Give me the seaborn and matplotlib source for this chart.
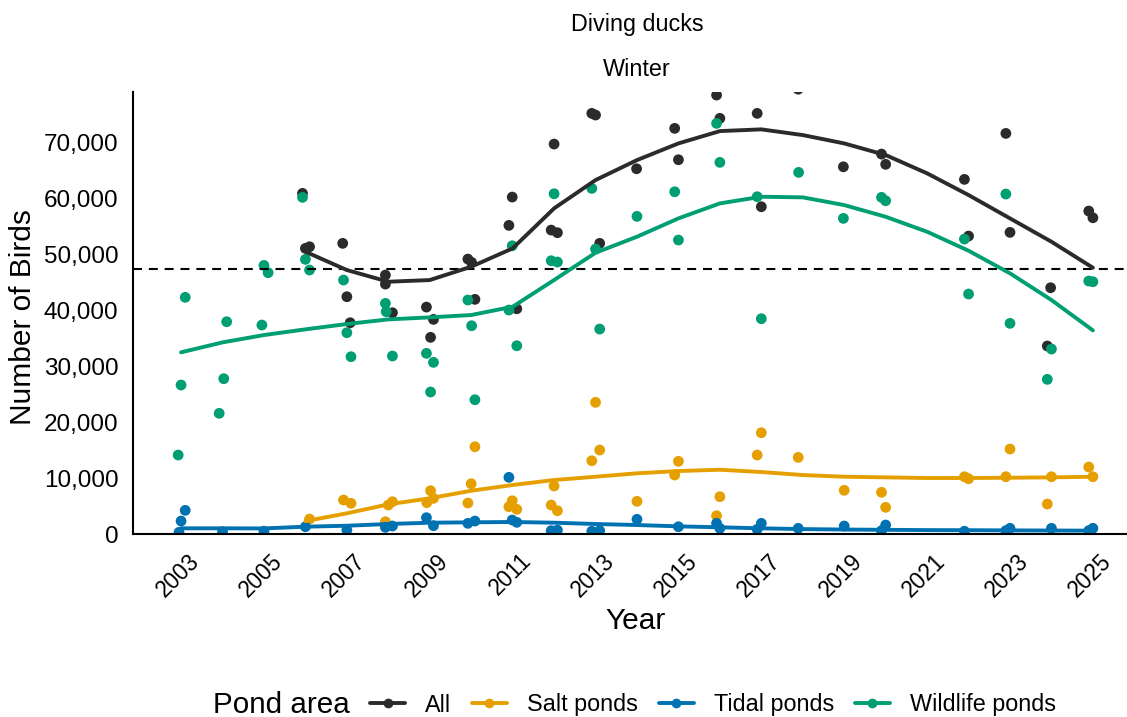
import matplotlib
matplotlib.use("Agg")
import matplotlib.pyplot as plt
import pandas as pd
import seaborn as sns
from matplotlib.lines import Line2D
from matplotlib.ticker import FuncFormatter
from matplotlib.transforms import ScaledTranslation

# Pond areas and their colours
areas = ["All", "Salt ponds", "Tidal ponds", "Wildlife ponds"]
colors = ["#2b2b2b", "#E69F00", "#0072B2", "#009E73"]

# Winter survey counts: decimal survey year and number of diving ducks
all_year = [2005.93, 2006.0, 2006.1, 2006.9, 2007.0, 2007.08, 2007.93, 2007.93, 2008.1,
            2008.92, 2009.02, 2009.09, 2009.92, 2010.01, 2010.09, 2010.91, 2010.99, 2011.1,
            2011.93, 2012.0, 2012.08, 2012.91, 2013.0, 2013.1, 2013.99, 2014.91, 2015.0,
            2015.92, 2016.0, 2016.9, 2017.0, 2017.89, 2018.98, 2019.9, 2020.0, 2021.9,
            2022.0, 2022.9, 2023.0, 2023.9, 2023.98, 2024.9, 2025.0]
all_count = [60880, 51050, 51340, 51950, 42410, 37760, 46280, 44670, 39550,
             40560, 35150, 38360, 49140, 48550, 41940, 55160, 60220, 40260,
             54320, 69690, 53850, 75180, 74880, 51950, 65280, 72500, 66890,
             78450, 74290, 75180, 58490, 79500, 65630, 67900, 66070, 63380,
             53250, 71600, 53910, 33600, 44020, 57720, 56520]

salt_year = [2006.1, 2006.92, 2007.1, 2007.93, 2008.0, 2008.1, 2008.93, 2009.02, 2009.09,
             2009.92, 2010.0, 2010.09, 2010.91, 2010.99, 2011.1, 2011.93, 2012.0, 2012.08,
             2012.91, 2013.0, 2013.1, 2014.0, 2014.91, 2015.0, 2015.92, 2016.0, 2016.9,
             2017.0, 2017.89, 2019.0, 2019.9, 2020.0, 2021.9, 2022.0, 2022.9, 2023.0,
             2023.9, 2024.0, 2024.9, 2025.0]
salt_count = [2680, 6080, 5490, 2200, 5180, 5770, 5600, 7740, 6380,
              5540, 8990, 15600, 4880, 5950, 4410, 5180, 8580, 4160,
              13100, 23530, 15010, 5840, 10540, 12990, 3270, 6670, 14120,
              18100, 13700, 7810, 7450, 4770, 10240, 9880, 10240, 15190,
              5360, 10240, 11970, 10240]

tidal_year = [2002.95, 2003.0, 2003.1, 2004.0, 2005.0, 2006.0, 2007.0, 2007.93, 2008.1,
              2008.92, 2009.09, 2009.92, 2010.09, 2010.91, 2010.99, 2011.1, 2011.93, 2012.08,
              2012.91, 2013.1, 2014.0, 2015.0, 2015.92, 2016.0, 2016.9, 2017.0, 2017.89,
              2019.0, 2019.9, 2020.0, 2021.9, 2022.9, 2023.0, 2024.0, 2024.9, 2025.0]
tidal_count = [300, 2320, 4230, 400, 500, 1300, 700, 1200, 1430,
               2920, 1490, 1910, 2320, 10130, 2500, 2090, 600, 700,
               500, 600, 2630, 1300, 1910, 1020, 840, 1910, 1020,
               1430, 600, 1610, 500, 600, 1020, 1020, 600, 1020]

wild_year = [2002.93, 2003.0, 2003.1, 2003.92, 2004.03, 2004.1, 2004.95, 2005.0, 2005.1,
             2005.93, 2006.0, 2006.1, 2006.92, 2007.0, 2007.1, 2007.93, 2007.95, 2008.1,
             2008.92, 2009.02, 2009.09, 2009.92, 2010.01, 2010.09, 2010.91, 2010.99, 2011.1,
             2011.93, 2012.0, 2012.08, 2012.91, 2013.0, 2013.1, 2014.0, 2014.91, 2015.0,
             2015.92, 2016.0, 2016.9, 2017.0, 2017.9, 2018.98, 2019.9, 2020.0, 2021.9,
             2022.0, 2022.9, 2023.0, 2023.9, 2024.0, 2024.9, 2025.0]
wild_count = [14120, 26630, 42300, 21570, 27760, 37940, 37350, 48000, 46700,
              60170, 49090, 47180, 45390, 35980, 31690, 41220, 39730, 31810,
              32290, 25380, 30680, 41820, 37220, 24000, 40030, 51520, 33650,
              48840, 60810, 48610, 61770, 50930, 36630, 56770, 61170, 52540,
              73390, 66420, 60280, 38480, 64630, 56410, 60170, 59560, 52720,
              42890, 60760, 37650, 27640, 33060, 45210, 45090]

# LOESS trend per pond area, one value per year
fit_all_year = list(range(2006, 2026))
fit_all = [50450, 47180, 45090, 45390, 47770, 51050, 58200, 63260, 66830, 69810,
           72010, 72320, 71300, 69810, 67730, 64460, 60580, 56410, 52240, 47590]
fit_salt_year = list(range(2006, 2026))
fit_salt = [2300, 3700, 5300, 6380, 7740, 8760, 9650, 10240, 10850, 11260,
            11490, 11080, 10540, 10240, 10130, 10010, 10010, 10060, 10130, 10240]
fit_tidal_year = list(range(2003, 2026))
fit_tidal = [1020, 1020, 1000, 1310, 1480, 1790, 2020, 2090, 2150, 2020, 1790, 1610,
             1370, 1200, 1020, 880, 800, 750, 700, 680, 650, 620, 600]
fit_wild_year = list(range(2003, 2026))
fit_wild = [32470, 34250, 35560, 36580, 37530, 38360, 38720, 39140, 40620, 45390, 50270,
            53130, 56410, 59090, 60280, 60170, 58790, 56700, 54020, 50630, 46590, 41820, 36400]

# Long-term average reference level
reference_level = 47400

year_ticks = list(range(2003, 2026, 2))

points = pd.concat([
    pd.DataFrame({"year": all_year, "count": all_count, "area": "All"}),
    pd.DataFrame({"year": salt_year, "count": salt_count, "area": "Salt ponds"}),
    pd.DataFrame({"year": tidal_year, "count": tidal_count, "area": "Tidal ponds"}),
    pd.DataFrame({"year": wild_year, "count": wild_count, "area": "Wildlife ponds"}),
], ignore_index=True)

trends = pd.concat([
    pd.DataFrame({"year": fit_all_year, "count": fit_all, "area": "All"}),
    pd.DataFrame({"year": fit_salt_year, "count": fit_salt, "area": "Salt ponds"}),
    pd.DataFrame({"year": fit_tidal_year, "count": fit_tidal, "area": "Tidal ponds"}),
    pd.DataFrame({"year": fit_wild_year, "count": fit_wild, "area": "Wildlife ponds"}),
], ignore_index=True)

sns.set_theme(style="white")
plt.rcParams["font.family"] = ["Liberation Sans", "DejaVu Sans"]
plt.rcParams["text.color"] = "black"
plt.rcParams["axes.labelcolor"] = "black"

fig = plt.figure(figsize=(11.27, 7.17), dpi=100)
ax = fig.add_axes([0.118, 0.2552, 0.8944, 0.6165])

sns.scatterplot(data=points, x="year", y="count", hue="area", hue_order=areas,
                palette=colors, s=60, linewidth=0, legend=False, ax=ax, zorder=2)
ax.axhline(reference_level, color="black", lw=1.5, dashes=(4.3, 3.3), zorder=2.5)
sns.lineplot(data=trends, x="year", y="count", hue="area", hue_order=areas,
             palette=colors, lw=2.8, estimator=None, errorbar=None, legend=False,
             ax=ax, zorder=3)

ax.set_xlim(2001.84, 2026.16)
ax.set_ylim(0, 79000)
ax.set_xticks(year_ticks)
ax.set_yticks(range(0, 70001, 10000))
ax.yaxis.set_major_formatter(FuncFormatter(lambda v, p: f"{int(v):,}"))

for side in ("top", "right"):
    ax.spines[side].set_visible(False)
for side in ("left", "bottom"):
    ax.spines[side].set_color("black")
    ax.spines[side].set_linewidth(1.5)

ax.tick_params(axis="both", direction="out", length=5, width=1.4, color="#333333",
               labelcolor="black")
ax.tick_params(axis="y", labelsize=17.5, pad=5.5)
ax.tick_params(axis="x", labelsize=16.3, pad=6)

shift = ScaledTranslation(7 / 100, 0, fig.dpi_scale_trans)
for lab in ax.get_xticklabels():
    lab.set_rotation(45)
    lab.set_ha("right")
    lab.set_va("top")
    lab.set_rotation_mode("anchor")
    lab.set_transform(lab.get_transform() + shift)

ax.set_xlabel("Year", fontsize=21.5, va="center")
ax.xaxis.set_label_coords(0.499, -0.197)
ax.set_ylabel("Number of Birds", fontsize=21.5, va="center")
ax.yaxis.set_label_coords(-0.1091, 0.49)

# Facet strip labels
cx = 0.118 + 0.8944 / 2
fig.text(cx, 1 - 24 / 717, "Diving ducks", fontsize=16.8, ha="center", va="center")
fig.text(cx, 1 - 70 / 717, "Winter", fontsize=16.8, ha="center", va="center")

# Legend along the bottom
handles = [Line2D([0], [0], color=c, lw=2.8, marker="o", markersize=7,
                  markeredgewidth=0) for c in colors]
fig.text(213 / 1127, 1 - 705 / 717, "Pond area", fontsize=21.3, ha="left", va="center")
fig.legend(handles, areas, loc="center left", bbox_to_anchor=(370 / 1127, 1 - 705 / 717),
           ncol=4, frameon=False, fontsize=16.8, handlelength=1.5, handletextpad=0.85,
           columnspacing=0.9, borderpad=0, borderaxespad=0)

fig.savefig("out.png", dpi=100)
